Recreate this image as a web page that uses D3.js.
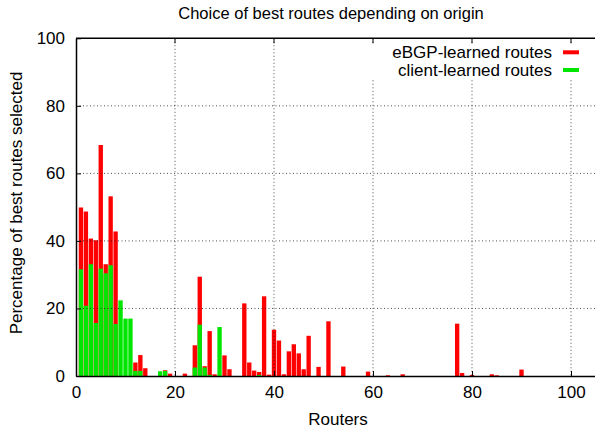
<!DOCTYPE html>
<html>
<head>
<meta charset="utf-8">
<script src="https://cdn.jsdelivr.net/npm/d3@7"></script>
<style>
  html, body { margin: 0; padding: 0; background: #fff; }
  svg { display: block; font-family: "Liberation Sans", Arial, Helvetica, sans-serif; }
</style>
</head>
<body>
<svg id="chart" width="595" height="431"></svg>
<script>
// ---- data ----
const title = "Choice of best routes depending on origin";
const xLabel = "Routers";
const yLabel = "Percentage of best routes selected";
const seriesNames = ["eBGP-learned routes", "client-learned routes"];
const xTicks = [0, 20, 40, 60, 80, 100];
const yTicks = [0, 20, 40, 60, 80, 100];

const ebgpRouters = [1, 2, 3, 4, 5, 6, 7, 8, 12, 13, 14, 18, 19, 22, 24, 25, 26, 27, 28, 30, 31, 34, 35, 36, 37, 38, 39, 40, 41, 42, 43, 44, 45, 46, 47, 49, 51, 54, 59, 63, 66, 77, 78, 80, 84, 85, 90];
const ebgpValues  = [49.9, 48.7, 40.7, 40.2, 68.4, 33.1, 53.2, 42.8, 4.0, 6.2, 2.3, 1.7, 0.7, 0.7, 9.1, 29.4, 2.9, 13.3, 0.5, 6.1, 2.0, 21.5, 4.0, 1.6, 1.2, 23.6, 0.4, 13.7, 10.5, 0.5, 7.3, 9.4, 6.7, 2.0, 11.9, 2.7, 16.2, 2.8, 1.3, 0.2, 0.5, 15.5, 0.9, 0.3, 0.5, 0.2, 1.9];

const clientRouters = [1, 2, 3, 4, 5, 6, 7, 8, 9, 10, 11, 12, 13, 17, 18, 24, 25, 26, 27, 29, 37];
const clientValues  = [31.6, 20.8, 33.1, 15.7, 31.8, 30.4, 32.8, 15.4, 22.4, 17.0, 17.0, 1.5, 1.5, 1.4, 1.5, 2.5, 15.2, 2.5, 0.3, 14.5, 0.3];

const colors = ["#ff0000", "#00e600"];

// ---- layout ----
const svg = d3.select("#chart");
const mLeft = 76, mRight = 595, mTop = 38.3, mBottom = 376;

const x = d3.scaleLinear().domain([0, (mRight - mLeft) / 4.95]).range([mLeft, mRight]);
const y = d3.scaleLinear().domain([0, 100]).range([mBottom, mTop]);

// bars
const ebgp = ebgpRouters.map((r, i) => ({ r, v: ebgpValues[i] }));
const client = clientRouters.map((r, i) => ({ r, v: clientValues[i] }));

function drawBars(data, color) {
  svg.append("g").selectAll("rect").data(data).join("rect")
    .attr("x", d => x(d.r - 0.5) + 0.3)
    .attr("width", d => x(d.r + 0.5) - x(d.r - 0.5) - 0.6)
    .attr("y", d => y(d.v))
    .attr("height", d => y(0) - y(d.v))
    .attr("fill", color);
}
drawBars(ebgp, colors[0]);
drawBars(client, colors[1]);

// grid (front, dotted)
const grid = svg.append("g").attr("stroke", "#000").attr("stroke-opacity", 0.7)
  .attr("stroke-width", 1).attr("stroke-dasharray", "1,2.5");
grid.selectAll("line.v").data(xTicks.filter(t => t > 0)).join("line").attr("class", "v")
  .attr("x1", d => x(d)).attr("x2", d => x(d)).attr("y1", mTop).attr("y2", mBottom);
grid.selectAll("line.h").data(yTicks.filter(t => t > 0 && t < 100)).join("line").attr("class", "h")
  .attr("x1", mLeft).attr("x2", mRight).attr("y1", d => y(d)).attr("y2", d => y(d));

// legend background (key box clears the grid)
svg.append("rect").attr("x", 366).attr("y", 43).attr("width", 229).attr("height", 36).attr("fill", "#fff");

// axes
const yAxis = d3.axisLeft(y).tickValues(yTicks).tickSizeInner(-5).tickSizeOuter(0).tickPadding(11);
const gy = svg.append("g").attr("transform", `translate(${mLeft},0)`).call(yAxis);
const xAxis = d3.axisBottom(x).tickValues(xTicks).tickSizeInner(-5).tickSizeOuter(0).tickPadding(10);
const gx = svg.append("g").attr("transform", `translate(0,${mBottom})`).call(xAxis);
[gx, gy].forEach(g => {
  g.selectAll("text").attr("font-size", 17).attr("fill", "#000")
    .attr("font-family", "'Liberation Sans', Arial, Helvetica, sans-serif");
  g.selectAll(".tick line").attr("stroke", "#000").attr("stroke-width", 1);
  g.select(".domain").attr("stroke", "#000").attr("stroke-width", 1.5);
});
// top mirrored ticks
svg.append("g").selectAll("line").data(xTicks.filter(t => t > 0)).join("line")
  .attr("x1", d => x(d)).attr("x2", d => x(d)).attr("y1", mTop).attr("y2", mTop + 5)
  .attr("stroke", "#000");
// top border
svg.append("line").attr("x1", mLeft).attr("x2", mRight).attr("y1", mTop).attr("y2", mTop)
  .attr("stroke", "#000").attr("stroke-width", 1.5);

// title & labels
svg.append("text").attr("x", 331).attr("y", 19).attr("text-anchor", "middle")
  .attr("font-size", 16.5).text(title);
svg.append("text").attr("x", 338).attr("y", 425).attr("text-anchor", "middle")
  .attr("font-size", 17).text(xLabel);
svg.append("text").attr("transform", "translate(21.5,203) rotate(-90)").attr("text-anchor", "middle")
  .attr("font-size", 17).text(yLabel);

// legend
const legendRows = [52.3, 70];
seriesNames.forEach((name, i) => {
  svg.append("text").attr("x", 552).attr("y", legendRows[i] + 6).attr("text-anchor", "end")
    .attr("font-size", 17).text(name);
  svg.append("line").attr("x1", 563).attr("x2", 579).attr("y1", legendRows[i]).attr("y2", legendRows[i])
    .attr("stroke", colors[i]).attr("stroke-width", 4);
});
</script>
</body>
</html>
